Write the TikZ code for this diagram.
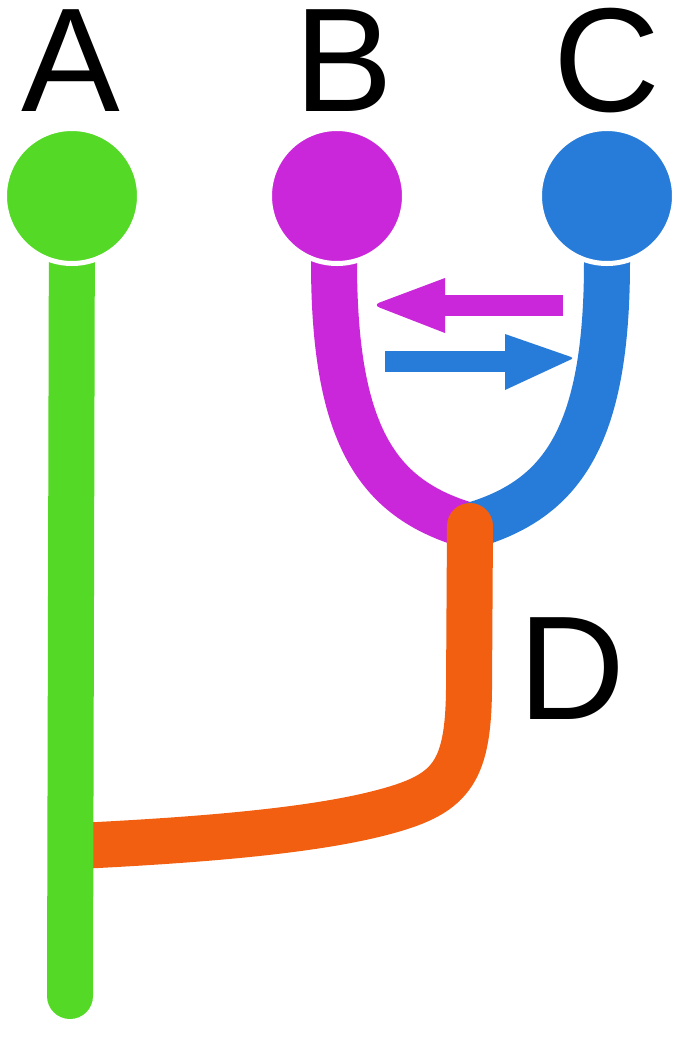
\documentclass[tikz,border=0pt]{standalone}
\usepackage{fontspec}
\setmainfont{Liberation Sans}
\definecolor{cA}{HTML}{53D926}
\definecolor{cB}{HTML}{CB27DA}
\definecolor{cC}{HTML}{277CDA}
\definecolor{cD}{HTML}{F25F10}
\begin{document}
\begin{tikzpicture}[x=1pt,y=-1pt,
  dot/.style={circle, draw=white, line width=5pt, minimum size=135pt, inner sep=0pt},
  lbl/.style={font=\fontsize{148}{148}\selectfont, anchor=base, inner sep=0pt, text=black},
  branch/.style={line width=46pt},
]
\useasboundingbox (0,0) rectangle (676,1037);
\fill[white] (0,0) rectangle (676,1037);
% coordinates
\coordinate (Ac) at (72,196);
\coordinate (Bc) at (337,196);
\coordinate (Cc) at (607,196);
\coordinate (Bt) at (334,262);
\coordinate (Ct) at (607,262);
\coordinate (J) at (470,526);
\coordinate (Aend) at (70,996);
\coordinate (Dturn) at (469,690);
\coordinate (Dh) at (380,813);
\coordinate (Dend) at (78,846);
% branches
\draw[branch, cB] (Bc) -- (Bt) .. controls (334,440) and (380,500) .. (J);
\draw[branch, cC] (Cc) -- (Ct) .. controls (607,440) and (560,500) .. (J);
\draw[branch, cD, line cap=round] (J) -- (Dturn) .. controls (468,775) and (450,795) .. (Dh) .. controls (310,831) and (200,840) .. (Dend);
\draw[branch, cA, line cap=round] (Ac) -- (Aend);
% circles
\node[dot, fill=cA] (A) at (Ac) {};
\node[dot, fill=cB] (B) at (Bc) {};
\node[dot, fill=cC] (C) at (Cc) {};
% arrows
\coordinate (m0) at (563,295);
\coordinate (m1) at (440,316);
\coordinate (mt) at (373,305);
\fill[cB] (m0) rectangle (m1);
\fill[cB] (445,278) [rounded corners=7pt] -- (mt) [sharp corners] -- (445,333) -- cycle;
\coordinate (b0) at (385,351);
\coordinate (b1) at (508,372);
\coordinate (bt) at (574,358);
\fill[cC] (b0) rectangle (b1);
\fill[cC] (505,334) [rounded corners=3pt] -- (bt) [sharp corners] -- (505,390) -- cycle;
% labels
\node[lbl] (la) at (71,111) {A};
\node[lbl] (lb) at (344,111) {B};
\node[lbl] (lc) at (607,111) {C};
\node[lbl] (ld) at (572,719) {D};
\end{tikzpicture}
\end{document}
